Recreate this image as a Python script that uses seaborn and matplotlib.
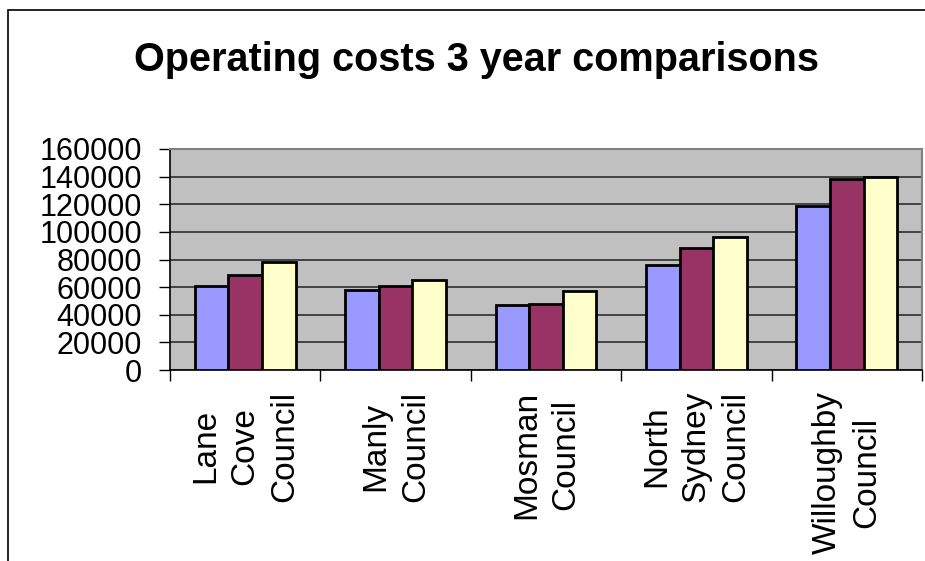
import matplotlib
matplotlib.use("Agg")
import matplotlib.pyplot as plt
from matplotlib.patches import Rectangle
import seaborn as sns
import pandas as pd
import numpy as np

categories = ["Lane\nCove\nCouncil", "Manly\nCouncil", "Mosman\nCouncil",
              "North\nSydney\nCouncil", "Willoughby\nCouncil"]
series_names = ["Year 1", "Year 2", "Year 3"]
year1 = [61000, 58000, 47000, 76000, 119000]
year2 = [68500, 61000, 48000, 88500, 138000]
year3 = [78500, 65500, 57000, 96000, 139500]
colors = ["#9999FF", "#993366", "#FFFFCC"]
yticks = [0, 20000, 40000, 60000, 80000, 100000, 120000, 140000, 160000]

rows = []
for name, vals in zip(series_names, [year1, year2, year3]):
    for c, v in zip(categories, vals):
        rows.append({"Council": c, "Year": name, "Cost": v})
df = pd.DataFrame(rows)

sns.set_style("white")
plt.rcParams["font.family"] = ["Liberation Sans", "DejaVu Sans"]
plt.rcParams["text.color"] = "black"
plt.rcParams["xtick.color"] = "black"
plt.rcParams["ytick.color"] = "black"
plt.rcParams["axes.labelcolor"] = "black"

fig = plt.figure(figsize=(9.25, 5.61), dpi=100)
ax = fig.add_axes([170/925, 1 - 370/561, 752/925, 221/561])
ax.set_facecolor("#C0C0C0")

sns.barplot(data=df, x="Council", y="Cost", hue="Year", palette=colors,
            saturation=1, width=0.67, gap=0, edgecolor="black", linewidth=2,
            legend=False, ax=ax, zorder=3)

ax.set_ylim(0, 160000)
ax.set_xlim(-0.5, len(categories) - 0.5)
ax.set_yticks(yticks)
ax.set_yticklabels([str(t) for t in yticks], fontsize=22)
ax.yaxis.grid(True, color="#222222", linewidth=1.1, zorder=1)
ax.set_axisbelow(True)
ax.tick_params(axis="y", length=8, width=1, pad=12, direction="out", left=True)

ax.set_xticks(range(len(categories)))
ax.set_xticklabels(categories, rotation=90, fontsize=24, ha="center", va="top",
                   multialignment="center", linespacing=1.35)
ax.tick_params(axis="x", which="major", length=0, pad=15)
ax.set_xticks(np.arange(-0.5, len(categories), 1.0), minor=True)
ax.tick_params(axis="x", which="minor", length=8, width=1, direction="out", bottom=True)

ax.set_xlabel("")
ax.set_ylabel("")
for s in ["left", "bottom"]:
    ax.spines[s].set_color("black")
    ax.spines[s].set_linewidth(1.2)
for s in ["top", "right"]:
    ax.spines[s].set_color("#808080")
    ax.spines[s].set_linewidth(1.5)

fig.text(0.515, 1 - 60/561, "Operating costs 3 year comparisons",
         fontsize=28.5, fontweight="bold", ha="center", va="center")

fig.add_artist(Rectangle((8/925, -0.1), 1.2, 1.1 - 10/561, transform=fig.transFigure,
                         fill=False, edgecolor="black", linewidth=1.2))

fig.savefig("out.png", dpi=100)
